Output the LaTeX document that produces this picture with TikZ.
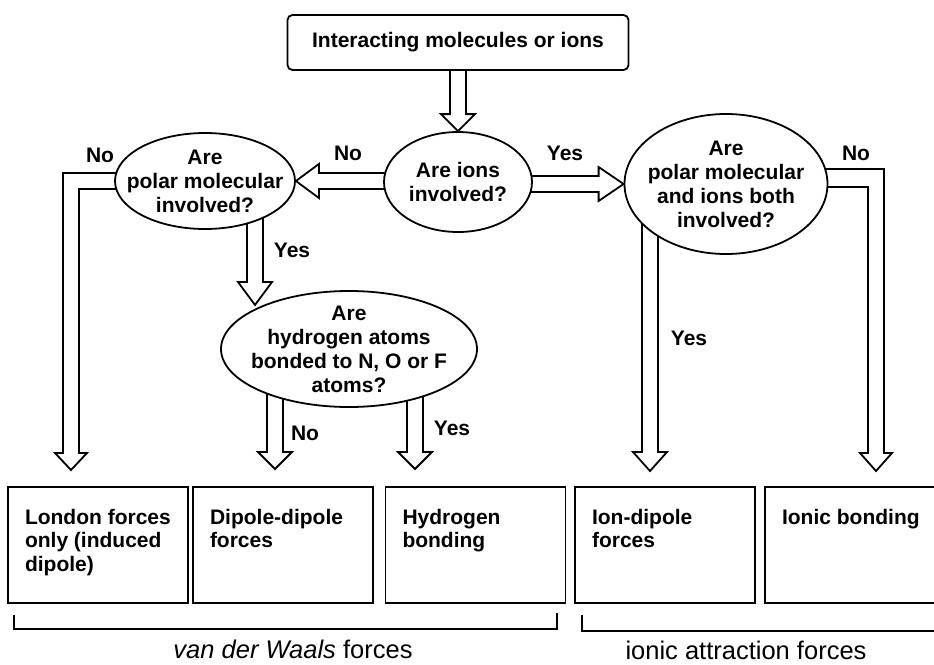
\documentclass[tikz,border=0pt]{standalone}
\usepackage{fontspec}
\setmainfont{Liberation Sans}
\usetikzlibrary{shapes.geometric, calc, backgrounds}
\hfuzz=5pt

\tikzset{
    qnode/.style={ellipse, draw, line width=1.8pt, fill=white, inner sep=-20pt, align=center, font=\bfseries\fontsize{21}{24}\selectfont},
    forcebox/.style={draw, line width=1.8pt, inner xsep=17pt, inner ysep=22pt, font=\bfseries\fontsize{21}{23.5}\selectfont},
    fatline/.style={line width=1.8pt},
    answer/.style={font=\bfseries\fontsize{21}{24}\selectfont},
    groupname/.style={anchor=base, font=\fontsize{25.5}{28}\selectfont}
}

% hollow arrow: [head length]{start}{tip}
\newcommand{\fatarrow}[3][17pt]{%
    \path ($(#3)!#1!(#2)$) coordinate (fatbase);
    \draw[fatline] ($(#2)!8pt!90:(#3)$) -- ($(fatbase)!8pt!90:(#3)$)
        -- ($(fatbase)!17pt!90:(#3)$) -- (#3) -- ($(fatbase)!17pt!-90:(#3)$)
        -- ($(fatbase)!8pt!-90:(#3)$) -- ($(#2)!8pt!-90:(#3)$);
}
\newcommand{\boxtext}[1]{\parbox[t][72pt][t]{146pt}{\raggedright #1}}

\begin{document}
\begin{tikzpicture}[x=1pt, y=-1pt]
    \path[use as bounding box, clip] (0,0) rectangle (934,664);

    \node[draw, rounded corners=5pt, line width=1.8pt, fill=white, minimum width=341pt, minimum height=55pt, answer] (interact) at (458,42.5) {Interacting molecules or ions};

    \node[qnode, minimum width=148pt, minimum height=100pt] (ions) at (458,182) {Are ions\\involved?};
    \node[qnode, minimum width=180pt, minimum height=96pt] (polar) at (205,181) {Are\\polar molecular\\involved?};
    \node[qnode, minimum width=203pt, minimum height=140pt] (both) at (726,184) {Are\\polar molecular\\and ions both\\involved?};
    \node[qnode, minimum width=256pt, minimum height=116pt] (hydrogen) at (349,349) {Are\\hydrogen atoms\\bonded to N, O or F\\atoms?};

    \node[forcebox] (london) at (98,545) {\boxtext{London~forces\\only (induced\\dipole)}};
    \node[forcebox] (dipole) at (283,545) {\boxtext{Dipole-dipole\\forces}};
    \node[forcebox] (hbond) at (475.5,545) {\boxtext{Hydrogen\\bonding}};
    \node[forcebox] (iondipole) at (665,545) {\boxtext{Ion-dipole\\forces}};
    \node[forcebox] (ionic) at (855,545) {\boxtext{Ionic bonding}};

    \coordinate (hyin) at (255,305);
    \coordinate (dtip) at (275,469);
    \coordinate (htip) at (415,469);
    \coordinate (itip) at (650,471);
    \coordinate (ltip) at (71,470);
    \coordinate (btip) at (876,471);

    \begin{pgfonlayer}{background}
        \fatarrow{interact.center}{ions.north}
        \fatarrow[23pt]{ions.center |- polar.east}{polar.east}
        \fatarrow[25pt]{ions.center |- both.west}{both.west}
        \fatarrow[23pt]{polar.center -| hyin}{hyin}
        \fatarrow{hydrogen.center -| dtip}{dtip}
        \fatarrow{hydrogen.center -| htip}{htip}
        \fatarrow[19pt]{both.center -| itip}{itip}
        \draw[fatline] ($(polar.center)+(0,-8)$) -| ($(ltip)+(-8,-17)$) -- ++(-8,0) -- (ltip)
            -- ++(16,-17) -- ++(-8,0) |- ($(polar.center)+(0,8)$);
        \draw[fatline] ($(both.center)+(0,-15)$) -| ($(btip)+(8,-18)$) -- ++(8,0) -- (btip)
            -- ++(-16,-18) -- ++(8,0) |- ($(both.center)+(0,3)$);
    \end{pgfonlayer}

    \node[answer] (no1) at (100,155) {No};
    \node[answer] (no2) at (348,153) {No};
    \node[answer] (yes1) at (565,153) {Yes};
    \node[answer] (no3) at (856,153) {No};
    \node[answer] (yes2) at (292,250) {Yes};
    \node[answer] (no4) at (305,433) {No};
    \node[answer] (yes3) at (452,428) {Yes};
    \node[answer] (yes4) at (689,338) {Yes};

    \draw[fatline] (14,615) |- (557,629) -- (557,613);
    \draw[fatline] (582,615) |- (950,631);
    \node[groupname] (vdw) at (293,658) {\textit{van der Waals} forces};
    \node[groupname] (ionforces) at (746,659) {ionic attraction forces};
\end{tikzpicture}
\end{document}
